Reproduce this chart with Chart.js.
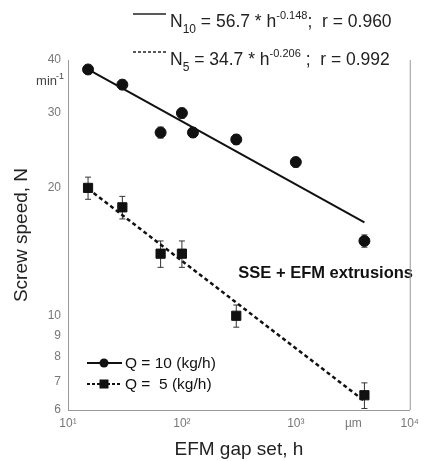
<!DOCTYPE html>
<html>
<head>
<meta charset="utf-8">
<script src="https://cdn.jsdelivr.net/npm/chart.js@4"></script>
<style>
  html, body { margin: 0; padding: 0; background: #fff; }
  #wrap { width: 425px; height: 461px; }
</style>
</head>
<body>
<div id="wrap"><canvas id="myChart" width="425" height="461"></canvas></div>
<script>
// Données
const gapQ10 = [15, 30, 65, 100, 125, 300, 1000, 4000];
const speedQ10 = [38, 35, 27, 30, 27, 26, 23, 15];
const errQ10 = [0.9, 0.9, 0.8, 0.8, 0.7, 0.7, 0.6, 0.5];

const gapQ5 = [15, 30, 65, 100, 300, 4000];
const speedQ5 = [20, 18, 14, 14, 10, 6.5];
const errQ5 = [1.2, 1.1, 1.0, 1.0, 0.6, 0.45];

const fitGap = [15, 4000];
const fitQ10 = [38, 16.6];
const fitQ5 = [19.9, 6.3];

const yTicks = [6, 7, 8, 9, 10, 20, 30, 40];
const xTicks = [10, 100, 1000, 3200, 10000];
const xTickLabels = ['10¹', '10²', '10³', 'µm', '10⁴'];

const police = 'Arial, "Liberation Sans", sans-serif';

const toPoints = (xs, ys) => xs.map((x, i) => ({ x: x, y: ys[i] }));

// Barres d'erreur dessinées via les échelles
const errorBars = {
  id: 'errorBars',
  beforeDatasetsDraw(chart) {
    const ctx = chart.ctx;
    const yScale = chart.scales.y;
    chart.data.datasets.forEach((ds, di) => {
      if (!ds.err) return;
      const meta = chart.getDatasetMeta(di);
      ctx.save();
      ctx.strokeStyle = '#333';
      ctx.lineWidth = 1;
      meta.data.forEach((pt, i) => {
        const v = ds.data[i].y;
        const top = yScale.getPixelForValue(v + ds.err[i]);
        const bot = yScale.getPixelForValue(v - ds.err[i]);
        ctx.beginPath();
        ctx.moveTo(pt.x, top); ctx.lineTo(pt.x, bot);
        ctx.moveTo(pt.x - 3, top); ctx.lineTo(pt.x + 3, top);
        ctx.moveTo(pt.x - 3, bot); ctx.lineTo(pt.x + 3, bot);
        ctx.stroke();
      });
      ctx.restore();
    });
  }
};

function texteIndice(ctx, x, y, parts) {
  // parts: [texte, 'n'|'sub'|'sup']
  parts.forEach(([t, mode]) => {
    if (mode === 'sub') {
      ctx.font = '12px ' + police;
      ctx.fillText(t, x, y + 6);
    } else if (mode === 'sup') {
      ctx.font = '11px ' + police;
      ctx.fillText(t, x, y - 8);
    } else {
      ctx.font = '17.5px ' + police;
      ctx.fillText(t, x, y);
    }
    x += ctx.measureText(t).width;
  });
}

const annotations = {
  id: 'annotations',
  afterDraw(chart) {
    const ctx = chart.ctx;
    const a = chart.chartArea;
    ctx.save();
    ctx.fillStyle = '#222';
    ctx.strokeStyle = '#222';
    ctx.textBaseline = 'alphabetic';
    ctx.textAlign = 'left';

    // Équations en haut
    ctx.lineWidth = 1.5;
    ctx.beginPath(); ctx.moveTo(133, 14); ctx.lineTo(166, 14); ctx.stroke();
    texteIndice(ctx, 170, 27, [['N', 'n'], ['10', 'sub'], [' = 56.7 * h', 'n'], ['-0.148', 'sup'], [';  r = 0.960', 'n']]);
    ctx.setLineDash([3, 2]);
    ctx.beginPath(); ctx.moveTo(133, 52); ctx.lineTo(166, 52); ctx.stroke();
    ctx.setLineDash([]);
    texteIndice(ctx, 170, 65, [['N', 'n'], ['5', 'sub'], [' = 34.7 * h', 'n'], ['-0.206', 'sup'], [' ;  r = 0.992', 'n']]);

    // Unité axe y
    ctx.font = '13px ' + police;
    ctx.fillStyle = '#444';
    ctx.textAlign = 'right';
    ctx.fillText('min', 57, 85);
    ctx.font = '9px ' + police;
    ctx.fillText('-1', 64, 79);

    // Texte SSE + EFM
    ctx.fillStyle = '#111';
    ctx.font = 'bold 16.5px ' + police;
    ctx.textAlign = 'right';
    ctx.fillText('SSE + EFM extrusions', 413, 278);

    // Légende
    const items = [
      { y: 363, dash: [], label: 'Q = 10 (kg/h)', style: 'circle' },
      { y: 384, dash: [3, 2], label: 'Q =  5 (kg/h)', style: 'rect' }
    ];
    items.forEach(it => {
      ctx.strokeStyle = '#111';
      ctx.lineWidth = 1.8;
      ctx.setLineDash(it.dash);
      ctx.beginPath(); ctx.moveTo(87, it.y); ctx.lineTo(122, it.y); ctx.stroke();
      ctx.setLineDash([]);
      ctx.fillStyle = '#111';
      if (it.style === 'circle') {
        ctx.beginPath(); ctx.arc(104, it.y, 4.5, 0, Math.PI * 2); ctx.fill();
      } else {
        ctx.fillRect(99.5, it.y - 4.5, 9, 9);
      }
      ctx.font = '15.5px ' + police;
      ctx.textAlign = 'left';
      ctx.textBaseline = 'middle';
      ctx.fillText(it.label, 125, it.y + 1);
      ctx.textBaseline = 'alphabetic';
    });

    // Bordure droite
    ctx.strokeStyle = '#999';
    ctx.lineWidth = 1;
    ctx.beginPath(); ctx.moveTo(a.right + 0.5, a.top); ctx.lineTo(a.right + 0.5, a.bottom); ctx.stroke();
    ctx.restore();
  }
};

const ctx = document.getElementById('myChart').getContext('2d');
new Chart(ctx, {
  type: 'scatter',
  data: {
    datasets: [
      {
        label: 'fit10',
        data: toPoints(fitGap, fitQ10),
        showLine: true,
        borderColor: '#111',
        borderWidth: 2,
        pointRadius: 0
      },
      {
        label: 'fit5',
        data: toPoints(fitGap, fitQ5),
        showLine: true,
        borderColor: '#111',
        borderWidth: 2.5,
        borderDash: [4, 3],
        pointRadius: 0
      },
      {
        label: 'Q = 10 (kg/h)',
        data: toPoints(gapQ10, speedQ10),
        err: errQ10,
        pointStyle: 'circle',
        pointRadius: 5.5,
        backgroundColor: '#111',
        borderColor: '#111',
        showLine: false
      },
      {
        label: 'Q =  5 (kg/h)',
        data: toPoints(gapQ5, speedQ5),
        err: errQ5,
        pointStyle: 'rect',
        pointRadius: 6.5,
        backgroundColor: '#111',
        borderColor: '#111',
        showLine: false
      }
    ]
  },
  options: {
    responsive: false,
    animation: false,
    layout: { padding: { top: 60, right: 8, left: 0, bottom: 0 } },
    plugins: {
      legend: { display: false },
      tooltip: { enabled: false }
    },
    scales: {
      x: {
        type: 'logarithmic',
        min: 10,
        max: 10000,
        afterBuildTicks: s => { s.ticks = xTicks.map(v => ({ value: v })); },
        afterFit: s => { s.height = 51; },
        grid: { display: false, drawTicks: false },
        border: { color: '#999' },
        ticks: {
          autoSkip: false,
          maxRotation: 0,
          padding: 6,
          color: '#777',
          font: { family: police, size: 12 },
          callback: (v, i) => xTickLabels[i]
        },
        title: {
          display: true,
          text: 'EFM gap set, h',
          color: '#222',
          font: { family: police, size: 19 },
          padding: { top: 2, bottom: 0 }
        }
      },
      y: {
        type: 'logarithmic',
        min: 6,
        max: 40,
        afterBuildTicks: s => { s.ticks = yTicks.map(v => ({ value: v })); },
        afterFit: s => { s.width = 68; },
        grid: { display: false, drawTicks: false },
        border: { color: '#999' },
        ticks: {
          autoSkip: false,
          padding: 7,
          color: '#777',
          font: { family: police, size: 12 },
          callback: v => String(v)
        },
        title: {
          display: true,
          text: 'Screw speed, N',
          color: '#222',
          font: { family: police, size: 19 },
          padding: { top: 10, bottom: 0 }
        }
      }
    }
  },
  plugins: [errorBars, annotations]
});
</script>
</body>
</html>
